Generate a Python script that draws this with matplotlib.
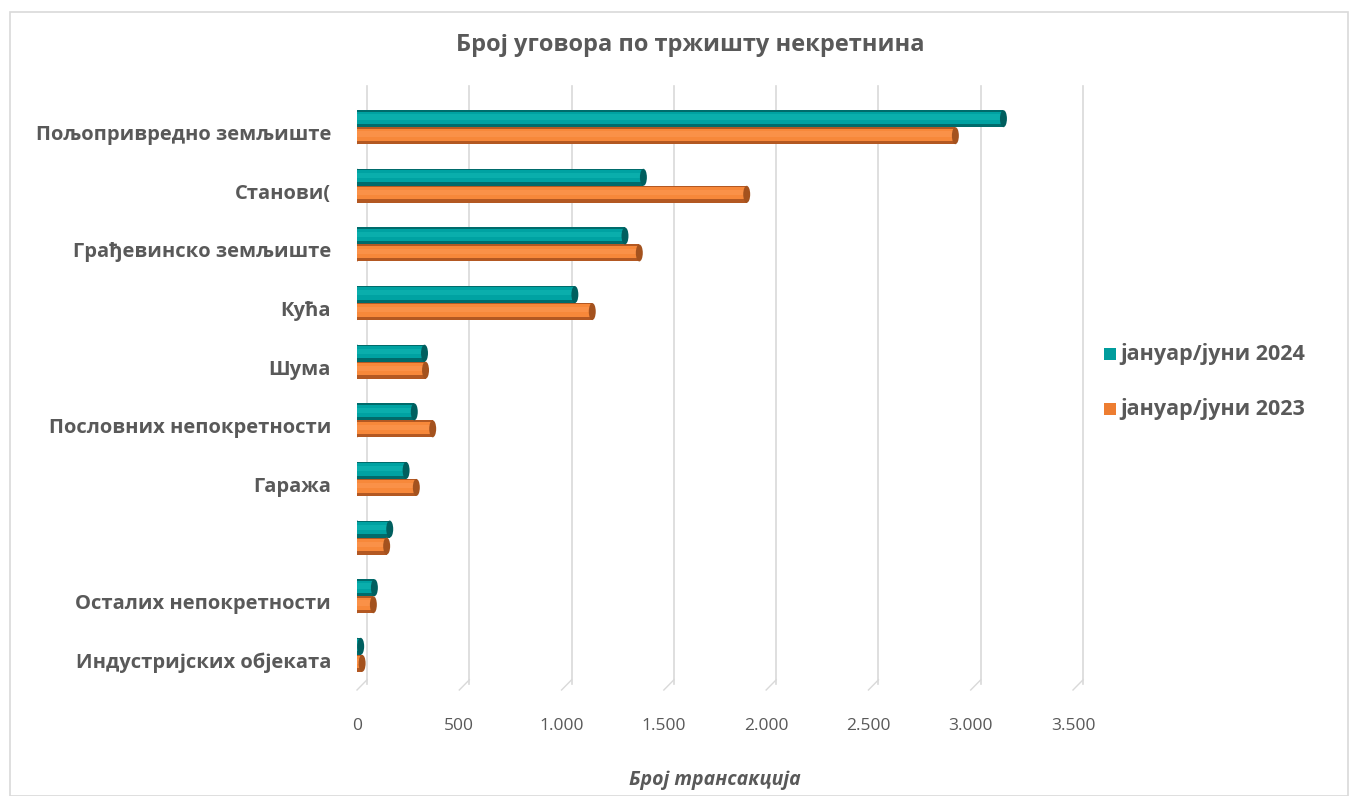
import numpy as np
import matplotlib.pyplot as plt
import matplotlib.transforms as mtransforms
from matplotlib.patches import Ellipse, Rectangle

plt.rcParams['font.family'] = ['Open Sans', 'DejaVu Sans']

categories = ['Пољопривредно земљиште', 'Станови(', 'Грађевинско земљиште', 'Кућа', 'Шума',
              'Пословних непокретности', 'Гаража', '', 'Осталих непокретности',
              'Индустријских објеката']
val_2024 = [3160, 1400, 1310, 1065, 330, 280, 240, 160, 85, 18]
val_2023 = [2925, 1905, 1380, 1150, 335, 370, 290, 145, 80, 25]
series_names = ['јануар/јуни 2024', 'јануар/јуни 2023']
xticks = [0, 500, 1000, 1500, 2000, 2500, 3000, 3500]
xtick_labels = ['0', '500', '1.000', '1.500', '2.000', '2.500', '3.000', '3.500']

txt = '#595959'
teal = {'dark': '#006b6b', 'mid': '#00a2a2', 'light': '#0aaeac', 'cap': '#005f5f', 'leg': '#009c9c'}
orng = {'dark': '#b35822', 'mid': '#f7883a', 'light': '#fa9148', 'cap': '#a4521e', 'leg': '#ed7d31'}

W, H = 1358, 796
fig = plt.figure(figsize=(W / 100, H / 100), dpi=100)
fig.patches.append(Rectangle((10 / W, 0), (W - 20) / W, (H - 12) / H, transform=fig.transFigure,
                             fill=False, edgecolor='#d9d9d9', linewidth=1.2))

ax = fig.add_axes([357 / W, 1 - 690 / H, 716 / W, (690 - 92) / H])
ax.set_xlim(0, 3500)
ax.set_ylim(len(categories) - 0.4, -0.6)

# back-wall gridlines, shifted right/up for the 3D look
off = mtransforms.offset_copy(ax.get_xaxis_transform(), fig=fig, x=10, y=6, units='dots')
for t in xticks:
    ax.plot([t, t], [0, 1], color='#d9d9d9', linewidth=1.2, transform=off, zorder=0, clip_on=False)
    ax.plot([t, t + 49], [0, 0.017], color='#d9d9d9', linewidth=1.0,
            transform=ax.get_xaxis_transform(), zorder=0, clip_on=False)

h = 0.29
ypos = np.arange(len(categories))
cap_w = 34


def cylinder(y, vals, c):
    for yi, v in zip(y, vals):
        ax.add_patch(Ellipse((0, yi), cap_w, h, facecolor=c['dark'], edgecolor='none', zorder=2))
    ax.barh(y, vals, height=h, color=c['dark'], zorder=3)
    ax.barh(y - h * 0.06, vals, height=h * 0.72, color=c['mid'], zorder=4)
    ax.barh(y - h * 0.1, vals, height=h * 0.3, color=c['light'], zorder=5)
    for yi, v in zip(y, vals):
        ax.add_patch(Ellipse((v, yi), cap_w, h, facecolor=c['cap'], edgecolor='none', zorder=6))


cylinder(ypos - 0.145, val_2024, teal)
cylinder(ypos + 0.145, val_2023, orng)

# category labels, sitting a little below the pair centre
ax.set_yticks([])
lab_tr = ax.get_yaxis_transform() + mtransforms.ScaledTranslation(-0.26, -0.08, fig.dpi_scale_trans)
for i, cat in enumerate(categories):
    ax.text(0, i, cat, transform=lab_tr, ha='right', va='center', fontsize=14.5,
            fontweight='bold', color=txt)

ax.set_xticks(xticks)
ax.set_xticklabels(xtick_labels, fontsize=12.5, color=txt)
ax.tick_params(length=0, axis='x', pad=20)
for s in ax.spines.values():
    s.set_visible(False)
ax.set_xlabel('Број трансакција', fontsize=14, fontstyle='italic', fontweight='bold',
              color=txt, labelpad=26)

fig.text(690 / W, 1 - 45 / H, 'Број уговора по тржишту некретнина', ha='center', va='center',
         fontsize=17, fontweight='bold', color=txt)

for name, c, yy in zip(series_names, [teal, orng], [354, 409]):
    fig.patches.append(Rectangle((1104 / W, 1 - (yy + 6) / H), 12 / W, 12 / H,
                                 transform=fig.transFigure, facecolor=c['leg'], edgecolor='none'))
    fig.text(1120 / W, 1 - yy / H, name, ha='left', va='center', fontsize=15.5,
             fontweight='bold', color=txt)

fig.savefig('out.png', dpi=100)
